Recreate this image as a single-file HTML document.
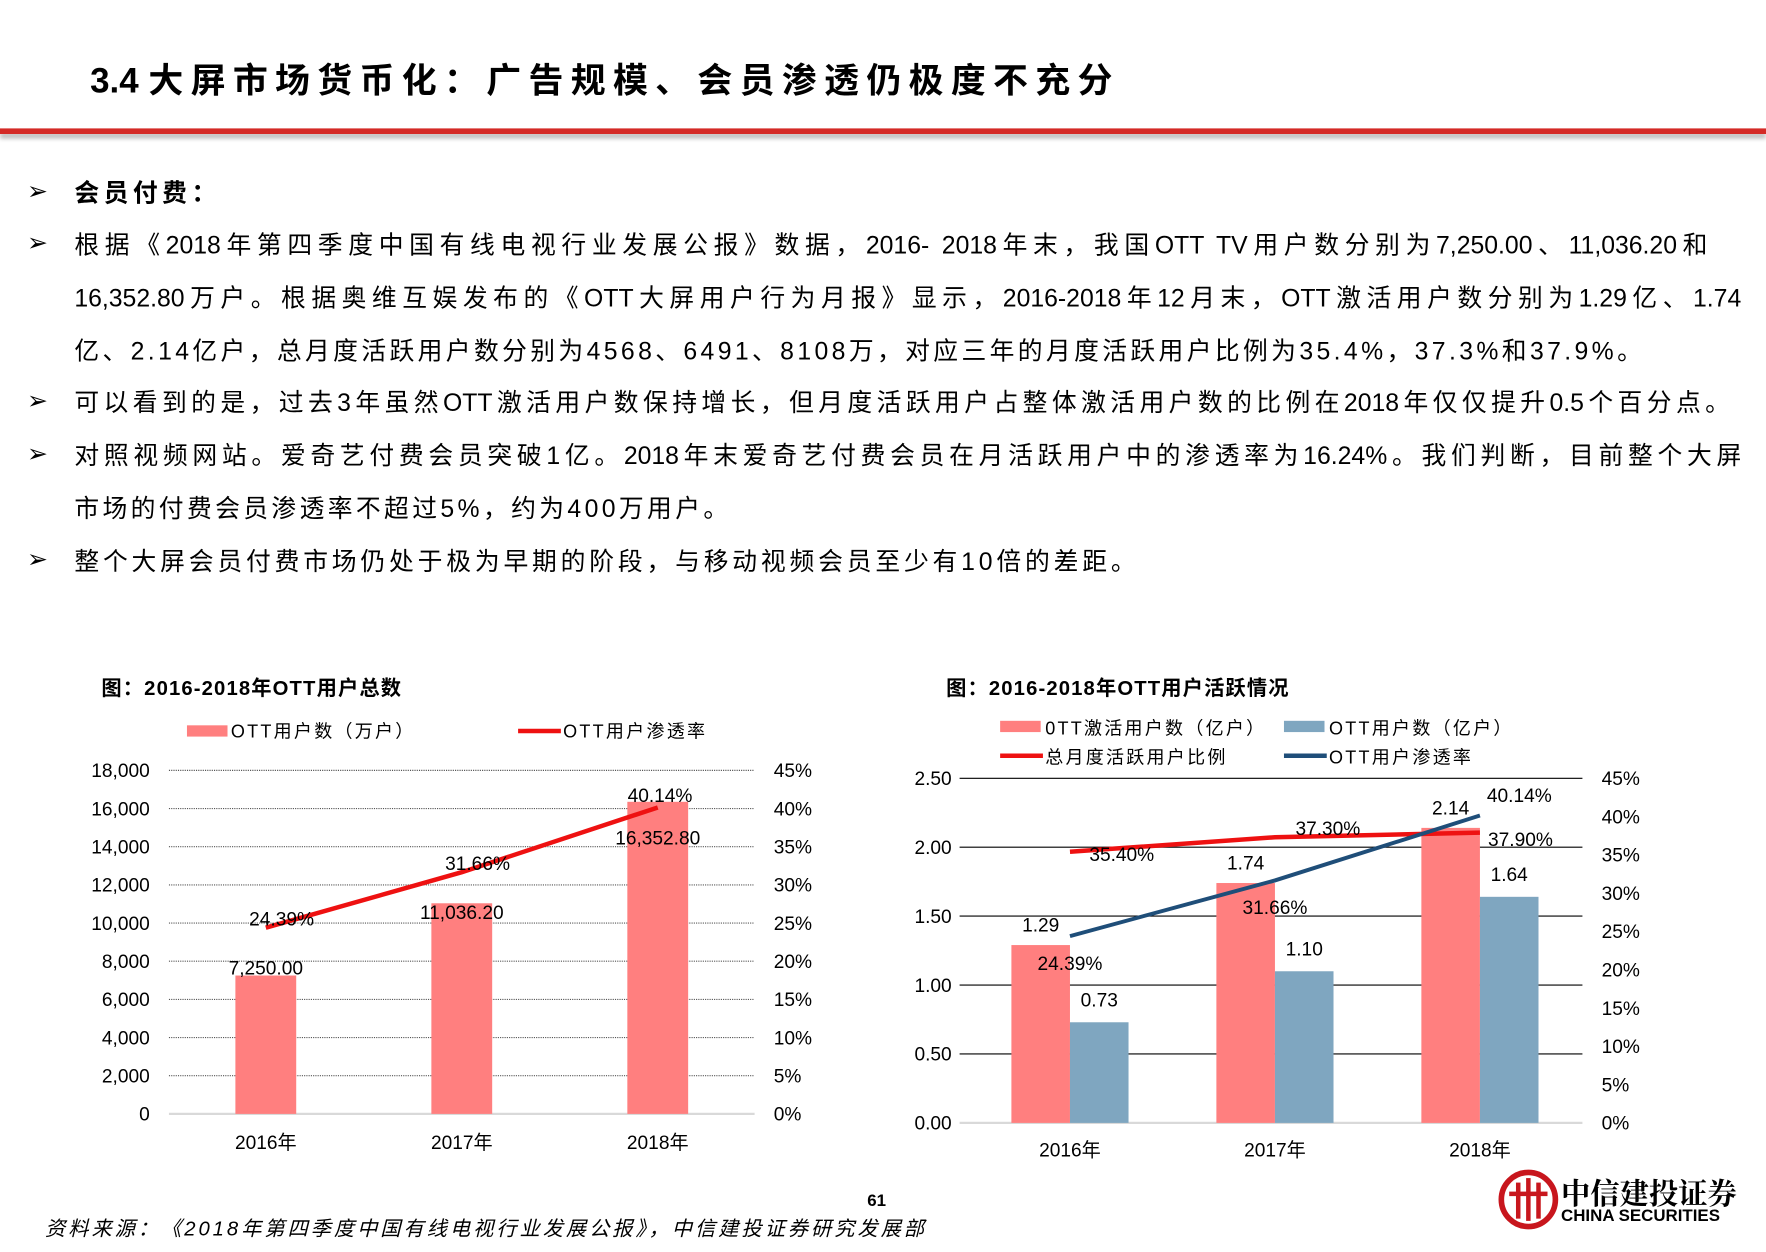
<!DOCTYPE html>
<html><head><meta charset="utf-8">
<style>
html,body{margin:0;padding:0;background:#fff;}
body{width:1766px;height:1252px;overflow:hidden;}
#page{position:absolute;left:0;top:0;width:1568px;height:1112px;transform:scale(1.12628);transform-origin:0 0;font-family:"Liberation Sans","Noto Sans CJK SC",sans-serif;color:#000;}
.title{position:absolute;left:80px;top:46px;font-size:31px;font-weight:bold;letter-spacing:6.5px;white-space:nowrap;}
.rule{position:absolute;left:0;top:114px;width:1568px;height:5px;background:#d42a26;box-shadow:0 4px 4px #bbb;}
.ln{position:absolute;left:66px;width:1480px;font-size:22px;line-height:30px;white-space:nowrap;}
.j{text-align:justify;text-align-last:justify;}
.bul{position:absolute;left:24px;font-size:22px;}
.ct{position:absolute;font-size:18px;font-weight:bold;white-space:nowrap;letter-spacing:1px;}
svg text{font-family:"Liberation Sans","Noto Sans CJK SC",sans-serif;}
</style></head><body>
<div id="page">
<div class="title"><span style="letter-spacing:0">3.4 </span>大屏市场货币化：广告规模、会员渗透仍极度不充分</div>
<div class="rule"></div>

<div class="bul" style="top:157px">➢</div>
<div class="ln" style="top:157px;font-weight:bold;letter-spacing:4px">会员付费：</div>
<div class="bul" style="top:203px">➢</div>
<div class="ln j" style="top:203px;width:1450px">根据《2018年第四季度中国有线电视行业发展公报》数据，2016- 2018年末，我国OTT TV用户数分别为7,250.00、11,036.20和</div>
<div class="ln j" style="top:250px">16,352.80万户。根据奥维互娱发布的《OTT大屏用户行为月报》显示，2016-2018年12月末，OTT激活用户数分别为1.29亿、1.74</div>
<div class="ln" style="top:297px;letter-spacing:3px">亿、2.14亿户，总月度活跃用户数分别为4568、6491、8108万，对应三年的月度活跃用户比例为35.4%，37.3%和37.9%。</div>
<div class="bul" style="top:343px">➢</div>
<div class="ln j" style="top:343px;width:1470px">可以看到的是，过去3年虽然OTT激活用户数保持增长，但月度活跃用户占整体激活用户数的比例在2018年仅仅提升0.5个百分点。</div>
<div class="bul" style="top:390px">➢</div>
<div class="ln j" style="top:390px">对照视频网站。爱奇艺付费会员突破1亿。2018年末爱奇艺付费会员在月活跃用户中的渗透率为16.24%。我们判断，目前整个大屏</div>
<div class="ln" style="top:437px;letter-spacing:3px">市场的付费会员渗透率不超过5%，约为400万用户。</div>
<div class="bul" style="top:484px">➢</div>
<div class="ln" style="top:484px;letter-spacing:3.4px">整个大屏会员付费市场仍处于极为早期的阶段，与移动视频会员至少有10倍的差距。</div>

<div class="ct" style="left:90px;top:597px">图：2016-2018年OTT用户总数</div>
<div class="ct" style="left:840px;top:597px">图：2016-2018年OTT用户活跃情况</div>

<svg id="c1" style="position:absolute;left:0;top:0" width="1568" height="1112"></svg>
<svg id="c2" style="position:absolute;left:0;top:0;pointer-events:none" width="1568" height="1112"></svg>

<div style="position:absolute;left:770px;top:1058px;font-size:15px;font-weight:bold">61</div>
<div style="position:absolute;left:40px;top:1077px;font-size:18px;font-style:italic;white-space:nowrap;letter-spacing:2.6px">资料来源：《2018年第四季度中国有线电视行业发展公报》，中信建投证券研究发展部</div>
<div style="position:absolute;left:1330px;top:1038px">
<svg width="54" height="54"><circle cx="27" cy="27" r="24" fill="none" stroke="#c8161d" stroke-width="5"/><rect x="16" y="12" width="4" height="32" fill="#c8161d"/><rect x="25" y="8" width="4" height="38" fill="#c8161d"/><rect x="34" y="12" width="4" height="32" fill="#c8161d"/><rect x="10" y="20" width="34" height="4" fill="#c8161d"/></svg>
<div style="position:absolute;left:56px;top:2px;font-size:26px;font-weight:bold;white-space:nowrap;font-family:'Noto Serif CJK SC',serif">中信建投证券</div>
<div style="position:absolute;left:56px;top:33px;font-size:15px;font-weight:bold;white-space:nowrap">CHINA SECURITIES</div>
</div>
</div>
<script>
const years=["2016年","2017年","2018年"];
const ottUsers=[7250.00,11036.20,16352.80];
const ottUserLabels=["7,250.00","11,036.20","16,352.80"];
const penetration=[24.39,31.66,40.14];
const leftTicks1=["0","2,000","4,000","6,000","8,000","10,000","12,000","14,000","16,000","18,000"];
const rightTicks=["0%","5%","10%","15%","20%","25%","30%","35%","40%","45%"];
const activeUsers=[1.29,1.74,2.14];
const ottUsersYi=[0.73,1.10,1.64];
const monthlyActiveRatio=[35.40,37.30,37.90];
const leftTicks2=["0.00","0.50","1.00","1.50","2.00","2.50"];
const NS="http://www.w3.org/2000/svg";
function mk(svg,tag,attrs,txt){const e=document.createElementNS(NS,tag);for(const k in attrs)e.setAttribute(k,attrs[k]);if(txt!==undefined)e.textContent=txt;svg.appendChild(e);return e;}

// chart 1
(function(){
const s=document.getElementById('c1');
const x0=150,x1=670,y0=989,y1=684;
const yL=v=>y0-(v/18000)*(y0-y1), yR=v=>y0-(v/45)*(y0-y1);
const xc=i=>236+i*174;
leftTicks1.forEach((t,i)=>{const y=y0-i*(y0-y1)/9;
 if(i>0){const g=mk(s,'line',{x1:x0,x2:x1,y1:y,y2:y,stroke:'#555','stroke-width':1,'stroke-dasharray':'1 1'});}
 const a=mk(s,'text',{x:133,y:y+6,'text-anchor':'end','font-size':17},t);
 const b=mk(s,'text',{x:687,y:y+6,'font-size':17},rightTicks[i]);});
const ax=mk(s,'line',{x1:x0,x2:x1,y1:y0,y2:y0,stroke:'#d9d9d9','stroke-width':2});
ottUsers.forEach((v,i)=>{const r=mk(s,'rect',{x:xc(i)-27,y:yL(v),width:54,height:y0-yL(v),fill:'#ff7f7f'});
 const t=mk(s,'text',{x:xc(i),y:yL(v)+(i==2?38:i==1?14:-1),'text-anchor':'middle','font-size':17},ottUserLabels[i]);
 const xl=mk(s,'text',{x:xc(i),y:1020,'text-anchor':'middle','font-size':17},years[i]);});
const p=mk(s,'polyline',{points:penetration.map((v,i)=>xc(i)+','+yR(v)).join(' '),fill:'none',stroke:'#ee1111','stroke-width':4});
penetration.forEach((v,i)=>{const t=mk(s,'text',{x:xc(i)+(i==0?14:i==1?14:2),y:yR(v)+(i==2?-5:-2),'text-anchor':'middle','font-size':17},v.toFixed(2)+'%');});
const l1=mk(s,'rect',{x:166,y:644,width:36,height:10,fill:'#ff7f7f'});
const l1t=mk(s,'text',{x:205,y:655,'font-size':16,'letter-spacing':2},'OTT用户数（万户）');
const l2=mk(s,'line',{x1:460,x2:498,y1:649,y2:649,stroke:'#ee1111','stroke-width':4});
const l2t=mk(s,'text',{x:500,y:655,'font-size':16,'letter-spacing':2},'OTT用户渗透率');
})();

// chart 2
(function(){
const s=document.getElementById('c2');
const x0=852,x1=1405,y0=997,y1=691;
const yL=v=>y0-(v/2.5)*(y0-y1), yR=v=>y0-(v/45)*(y0-y1);
const xc=i=>950+i*182;
leftTicks2.forEach((t,i)=>{const y=y0-i*(y0-y1)/5;
 const g=mk(s,'line',{x1:x0,x2:x1,y1:y,y2:y,stroke:i==0?'#d9d9d9':'#000','stroke-width':i==0?2:1});
 const a=mk(s,'text',{x:845,y:y+6,'text-anchor':'end','font-size':17},t);});
rightTicks.forEach((t,i)=>{const y=y0-i*(y0-y1)/9;const b=mk(s,'text',{x:1422,y:y+6,'font-size':17},t);});
years.forEach((yr,i)=>{
 const a=mk(s,'rect',{x:xc(i)-52,y:yL(activeUsers[i]),width:52,height:y0-yL(activeUsers[i]),fill:'#ff7f7f'});
 const b=mk(s,'rect',{x:xc(i),y:yL(ottUsersYi[i]),width:52,height:y0-yL(ottUsersYi[i]),fill:'#7fa6c0'});
 const ta=mk(s,'text',{x:xc(i)-26,y:yL(activeUsers[i])-12,'text-anchor':'middle','font-size':17},activeUsers[i].toFixed(2));
 const tb=mk(s,'text',{x:xc(i)+26,y:yL(ottUsersYi[i])-14,'text-anchor':'middle','font-size':17},ottUsersYi[i].toFixed(2));
 const xl=mk(s,'text',{x:xc(i),y:1027,'text-anchor':'middle','font-size':17},yr);});
const r=mk(s,'polyline',{points:monthlyActiveRatio.map((v,i)=>xc(i)+','+yR(v)).join(' '),fill:'none',stroke:'#ee1111','stroke-width':4});
const b=mk(s,'polyline',{points:penetration.map((v,i)=>xc(i)+','+yR(v)).join(' '),fill:'none',stroke:'#1f4e79','stroke-width':3.5});
monthlyActiveRatio.forEach((v,i)=>{const t=mk(s,'text',{x:xc(i)+(i==0?46:i==1?47:36),y:yR(v)+(i==2?12:i==0?8:-2),'text-anchor':'middle','font-size':17},v.toFixed(2)+'%');});
penetration.forEach((v,i)=>{const t=mk(s,'text',{x:xc(i)+(i==2?35:0),y:yR(v)+(i==2?-12:i==0?30:30),'text-anchor':'middle','font-size':17},v.toFixed(2)+'%');});
const L=[[888,640,'rect','#ff7f7f','0TT激活用户数（亿户）'],[1140,640,'rect','#7fa6c0','OTT用户数（亿户）'],[888,666,'line','#ee1111','总月度活跃用户比例'],[1140,666,'line','#1f4e79','OTT用户渗透率']];
L.forEach(d=>{let sw;if(d[2]=='rect')sw=mk(s,'rect',{x:d[0],y:d[1],width:36,height:10,fill:d[3]});else sw=mk(s,'line',{x1:d[0],x2:d[0]+38,y1:d[1]+5,y2:d[1]+5,stroke:d[3],'stroke-width':4});
 
 const t=mk(s,'text',{x:d[0]+40,y:d[1]+12,'font-size':16,'letter-spacing':2},d[4]);});
})();
</script>
</body></html>
